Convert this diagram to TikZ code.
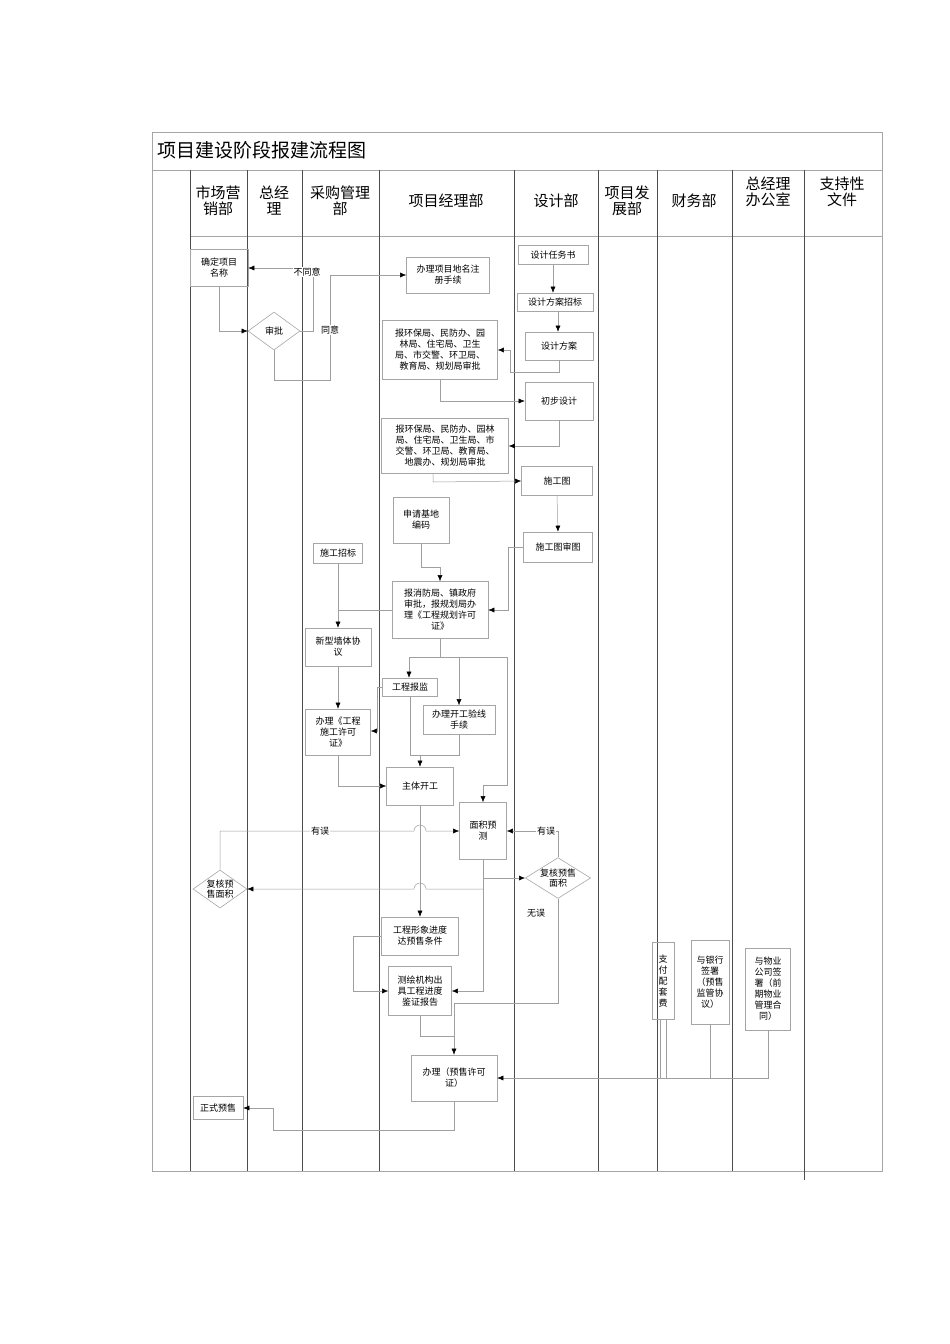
\documentclass[tikz,border=0pt]{standalone}
\usepackage{fontspec}
\setmainfont{Noto Sans CJK SC}
\usetikzlibrary{arrows.meta,shapes.geometric}
\begin{document}
\begin{tikzpicture}[x=1pt,y=-1pt,
  bx/.style={draw=gray!70,line width=0.6pt,inner sep=1pt,align=center,font=\fontsize{9}{11}\selectfont},
  dm/.style={draw=gray!70,line width=0.6pt,inner sep=0pt,align=center,font=\fontsize{9}{10}\selectfont},
  ln/.style={draw=gray!75,line width=0.5pt},
  ar/.style={ln,-{Latex[length=6pt,width=5pt,black]}},
  hd/.style={font=\fontsize{15}{16}\selectfont,align=center},
  lb/.style={font=\fontsize{9}{10}\selectfont,fill=white,inner sep=1pt}]
\useasboundingbox (0,0) rectangle (950,1344);
\fill[white] (0,0) rectangle (950,1344);
% frame
\draw[gray!70,line width=0.6pt] (152,132) rectangle (882,1171);
\draw[gray!70,line width=0.6pt] (152,170) -- (882,170);
\draw[gray!70,line width=0.6pt] (190,236) -- (882,236);
\foreach \x in {190,247,302,379,514,598,657,732,804}{\draw[gray!60!black,line width=0.6pt] (\x,170) -- (\x,1171);}
\draw[gray!60!black,line width=0.6pt] (804,1171) -- (804,1180);
\node[anchor=west,font=\fontsize{19}{20}\selectfont] (title) at (154,150) {项目建设阶段报建流程图};
\node[hd] (h1) at (218,201) {市场营\\销部};
\node[hd] (h2) at (274,201) {总经\\理};
\node[hd] (h3) at (340,201) {采购管理\\部};
\node[hd] (h4) at (446,201) {项目经理部};
\node[hd] (h5) at (556,201) {设计部};
\node[hd] (h6) at (627,201) {项目发\\展部};
\node[hd] (h7) at (694,201) {财务部};
\node[hd] (h8) at (768,192) {总经理\\办公室};
\node[hd] (h9) at (842,192) {支持性\\文件};
% nodes
\node[bx,minimum width=58,minimum height=37] (n1) at (219,268) {确定项目\\名称};
\node[dm,diamond,aspect=1.4,minimum width=52,minimum height=38] (d1) at (274,331) {审批};
\node[bx,minimum width=83,minimum height=36] (n2) at (448,275) {办理项目地名注\\册手续};
\node[bx,minimum width=70,minimum height=19] (s1) at (553,255) {设计任务书};
\node[bx,minimum width=76,minimum height=18] (s2) at (555,302) {设计方案招标};
\node[bx,minimum width=68,minimum height=28] (s3) at (559,346) {设计方案};
\node[bx,minimum width=115,minimum height=59] (p1) at (440,350) {报环保局、民防办、园\\林局、住宅局、卫生\\局、市交警、环卫局、\\教育局、规划局审批};
\node[bx,minimum width=68,minimum height=38] (s4) at (559,401) {初步设计};
\node[bx,minimum width=127,minimum height=55] (p2) at (445,446) {报环保局、民防办、园林\\局、住宅局、卫生局、市\\交警、环卫局、教育局、\\地震办、规划局审批};
\node[bx,minimum width=71,minimum height=29] (s5) at (557,481) {施工图};
\node[bx,minimum width=56,minimum height=46] (p3) at (421,520) {申请基地\\编码};
\node[bx,minimum width=69,minimum height=30] (s6) at (558,547) {施工图审图};
\node[bx,minimum width=49,minimum height=20] (c1) at (338,553) {施工招标};
\node[bx,minimum width=96,minimum height=57] (p4) at (440,610) {报消防局、镇政府\\审批，报规划局办\\理《工程规划许可\\证》};
\node[bx,minimum width=66,minimum height=38] (c2) at (338,647) {新型墙体协\\议};
\node[bx,minimum width=55,minimum height=18] (p5) at (410,687) {工程报监};
\node[bx,minimum width=72,minimum height=29] (p6) at (459,720) {办理开工验线\\手续};
\node[bx,minimum width=65,minimum height=46] (c3) at (338,732) {办理《工程\\施工许可\\证》};
\node[bx,minimum width=67,minimum height=38] (p7) at (420,786) {主体开工};
\node[bx,minimum width=47,minimum height=57] (p8) at (483,831) {面积预\\测};
\node[dm,diamond,aspect=1.4,minimum width=54,minimum height=38] (d2) at (220,889) {复核预\\售面积};
\node[dm,diamond,aspect=1.6,minimum width=62,minimum height=38] (d3) at (558,878) {复核预售\\面积};
\node[bx,minimum width=77,minimum height=38] (p9) at (420,936) {工程形象进度\\达预售条件};
\node[bx,minimum width=63,minimum height=49] (p10) at (420,991) {测绘机构出\\具工程进度\\鉴证报告};
\node[bx,minimum width=86,minimum height=46] (p11) at (454,1078) {办理（预售许可\\证）};
\node[bx,minimum width=50,minimum height=23] (m1) at (218,1108) {正式预售};
\node[bx,minimum width=22,minimum height=77] (f1) at (663,981) {支\\付\\配\\套\\费};
\node[bx,minimum width=38,minimum height=84] (f2) at (710,982) {与银行\\签署\\（预售\\监管协\\议）};
\node[bx,minimum width=45,minimum height=82] (f3) at (768,989) {与物业\\公司签\\署（前\\期物业\\管理合\\同）};
% connectors
\draw[ar] (n1.south) -- (219,331) -- (d1.west);
\coordinate (k1) at (313,268);
\draw[ar] (d1.east) -- (313,331) -- (k1) -- (n1.east);
\draw[ar] (d1.south) -- (274,380) -- (330,380) -- (330,275) -- (n2.west);
\node[lb] (l1) at (307,272) {不同意};
\node[lb] (l2) at (330,330) {同意};
\draw[ar] (s1.south) -- (s2.north -| s1.south);
\draw[ar] (558,311) -- (s3.north -| 558,0);
\draw[ar] (s3.south) -- (559,372) -- (510,372) -- (510,350) -- (p1.east);
\draw[ar] (p1.south) -- (440,401) -- (s4.west);
\draw[ar] (s4.south) -- (559,446) -- (p2.east);
\draw[ar] (433,474) -- (433,482) -- (s5.west);
\draw[ar] (s5.south) -- (s6.north);
\draw[ar] (s6.west) -- (508,547) -- (508,610) -- (p4.east);
\draw[ar] (p3.south) -- (421,567) -- (440,567) -- (p4.north);
\draw[ar] (c1.south) -- (c2.north);
\draw[ln] (p4.west) -- (338,610);
\draw[ar] (c2.south) -- (c3.north);
\draw[ln] (p4.south) -- (440,657);
\draw[ln] (409,657) -- (507,657);
\draw[ar] (409,657) -- (p5.north -| 409,0);
\draw[ar] (459,657) -- (p6.north);
\draw[ar] (507,657) -- (507,785) -- (483,785) -- (p8.north);
\draw[ar] (p5.west) -- (377,687) -- (377,731) -- (c3.east |- 0,731);
\draw[ar] (410,696) -- (410,755) -- (420,755) -- (p7.north);
\draw[ln] (p6.south) -- (459,755) -- (420,755);
\draw[ar] (c3.south) -- (338,786) -- (p7.west);
\draw[ar] (p7.south) -- (p9.north);
\draw[ar] (d3.north) -- (558,831) -- (p8.east);
\node[lb] (l3) at (546,831) {有误};
\draw[ar] (d2.north) -- (220,831) -- (414,831) arc[start angle=180,end angle=0,radius=6pt] -- (p8.west);
\node[lb] (l4) at (320,831) {有误};
\draw[ar] (p8.south) -- (483,878) -- (d3.west);
\draw[ar] (483,878) -- (483,991) -- (p10.east);
\draw[ar] (483,889) -- (426,889) arc[start angle=0,end angle=180,radius=6pt] -- (d2.east);
\draw[ar] (d3.south) -- (558,1003) -- (454,1003) -- (p11.north);
\node[lb] (l5) at (536,913) {无误};
\draw[ln] (p10.south) -- (420,1036) -- (454,1036);
\draw[ar] (p9.west) -- (353,936) -- (353,991) -- (p10.west);
\draw[ln] (660,1020) -- (660,1078);
\draw[ln] (666,1020) -- (666,1078);
\draw[ln] (f2.south) -- (710,1078);
\draw[ar] (f3.south) -- (768,1078) -- (p11.east);
\draw[ar] (p11.south) -- (454,1130) -- (273,1130) -- (273,1108) -- (m1.east);
\end{tikzpicture}
\end{document}
